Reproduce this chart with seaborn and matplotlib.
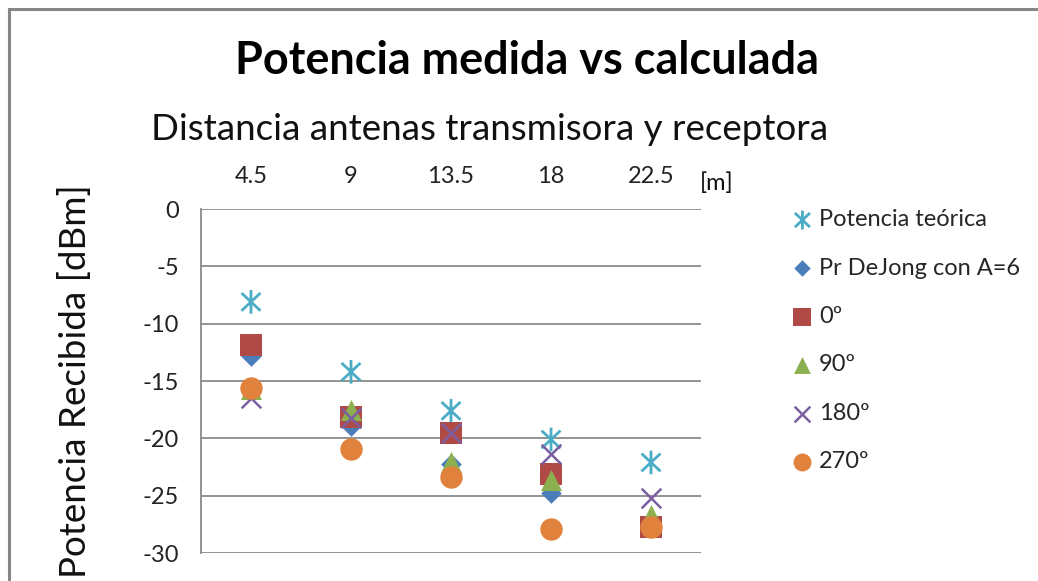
import numpy as np
import pandas as pd
import matplotlib
matplotlib.use("Agg")
import matplotlib.pyplot as plt
from matplotlib.path import Path
from matplotlib.patches import Rectangle
import seaborn as sns

# -----------------------------
# datos
# -----------------------------
distancias = ["4.5", "9", "13.5", "18", "22.5"]
series = ["Potencia teórica", "Pr DeJong con A=6", "0º", "90º", "180º", "270º"]

p_teorica = [-8.1, -14.2, -17.6, -20.1, -22.1]
p_dejong = [-12.8, -18.9, -22.2, -24.8, -27.4]
p_0 = [-11.9, -18.1, -19.5, -23.1, -27.7]
p_90 = [-15.7, -17.5, -22.1, -23.6, -26.7]
p_180 = [-16.5, -18.2, -19.5, -21.4, -25.2]
p_270 = [-15.6, -20.9, -23.4, -27.9, -27.7]

valores = [p_teorica, p_dejong, p_0, p_90, p_180, p_270]

colores = ["#4BACC6", "#4A7EBB", "#B04A46", "#8CB050", "#7B5FA0", "#E0823C"]

# marcador estrella de Excel (vertical + X)
estrella = Path(
    [(0, 1), (0, -1), (-0.8, 0.75), (0.8, -0.75), (-0.8, -0.75), (0.8, 0.75)],
    [Path.MOVETO, Path.LINETO, Path.MOVETO, Path.LINETO, Path.MOVETO, Path.LINETO],
)
marcadores = [estrella, "D", "s", "^", "x", "o"]
tamanos = [290, 110, 240, 230, 200, 260]

df = pd.DataFrame({
    "distancia": distancias * len(series),
    "potencia": np.concatenate(valores),
    "serie": np.repeat(series, len(distancias)),
})

# -----------------------------
# estilo
# -----------------------------
sns.set_style("white")
plt.rcParams["font.family"] = ["Lato", "DejaVu Sans"]
plt.rcParams["axes.unicode_minus"] = False

fig = plt.figure(figsize=(10.38, 5.81), dpi=100)
ax = fig.add_axes([201 / 1038, 1 - 553 / 581, 500 / 1038, 344 / 581])

for nombre, color, m, s in zip(series, colores, marcadores, tamanos):
    sub = df[df["serie"] == nombre]
    if m is estrella:
        sns.scatterplot(data=sub, x="distancia", y="potencia", ax=ax, marker=m,
                        s=s, color=color, edgecolor=color, facecolor="none",
                        linewidth=2.0, label=nombre)
    elif m == "x":
        sns.scatterplot(data=sub, x="distancia", y="potencia", ax=ax, marker=m,
                        s=s, color=color, linewidth=1.8, label=nombre)
    else:
        sns.scatterplot(data=sub, x="distancia", y="potencia", ax=ax, marker=m,
                        s=s, color=color, edgecolor=color, linewidth=0, label=nombre)

ax.set_xlim(-0.5, 4.5)
ax.set_ylim(-30, 0)
ax.set_yticks(np.arange(-30, 1, 5))
ax.yaxis.grid(True, color="#8a8a8a", linewidth=1.3)
ax.set_axisbelow(True)
for lado in ["top", "right", "bottom"]:
    ax.spines[lado].set_visible(False)
ax.spines["left"].set_color("#8a8a8a")
ax.spines["left"].set_linewidth(1.3)

ax.xaxis.tick_top()
ax.tick_params(axis="x", length=0, pad=16, labelsize=17, colors="#222222")
ax.tick_params(axis="y", length=0, pad=16, labelsize=17, colors="#222222")
ax.set_xlabel("")
ax.set_ylabel("")

# textos
fig.text(527 / 1038, 1 - 61 / 581, "Potencia medida vs calculada", ha="center",
         va="center", fontsize=32.4, fontweight="bold", color="black")
fig.text(490 / 1038, 1 - 130 / 581, "Distancia antenas transmisora y receptora",
         ha="center", va="center", fontsize=26.5, color="#111111")
fig.text(717 / 1038, 1 - 183 / 581, "[m]", ha="center", va="center",
         fontsize=17, color="#111111")
fig.text(75 / 1038, 1 - 381 / 581, "Potencia Recibida [dBm]", ha="center",
         va="center", rotation=90, fontsize=26.5, color="#111111")

# leyenda
h, l = ax.get_legend_handles_labels()
ax.legend_.remove()
fig.legend(h, l, loc="upper left", bbox_to_anchor=(767 / 1038, 1 - 188 / 581),
           frameon=False, fontsize=17, labelspacing=1.16, handletextpad=0.1,
           handlelength=1.2, markerscale=0.8)

# borde del área del gráfico
fig.patches.append(Rectangle((9 / 1038, -0.1), 1.2, 1 - 9 / 581 + 0.1,
                             transform=fig.transFigure, fill=False,
                             edgecolor="#878787", linewidth=2.2))

fig.savefig("out.png", dpi=100)
